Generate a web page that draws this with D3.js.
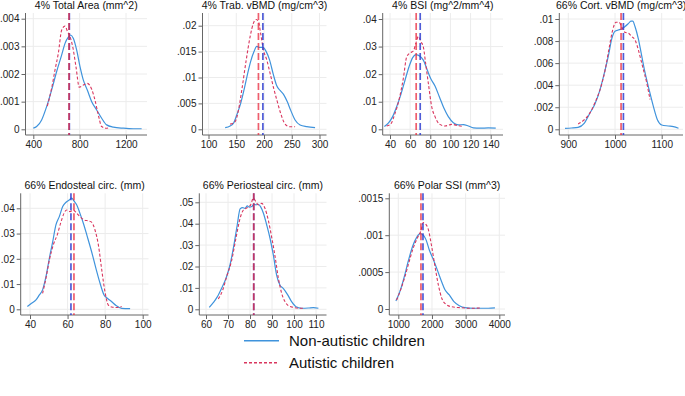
<!DOCTYPE html>
<html>
<head>
<meta charset="utf-8">
<script src="https://cdn.jsdelivr.net/npm/d3@7"></script>
<style>
  body { margin: 0; background: #fff; }
  svg { font-family: "Liberation Sans", Arial, sans-serif; }
</style>
</head>
<body>
<script>
// panel titles
const titles = [
  '4% Total Area (mm^2)', '4% Trab. vBMD (mg/cm^3)', '4% BSI (mg^2/mm^4)',
  '66% Cort. vBMD (mg/cm^3)', '66% Endosteal circ. (mm)',
  '66% Periosteal circ. (mm)', '66% Polar SSI (mm^3)'
];

// tick labels per panel
const xTicks = [
  [400, 800, 1200], [100, 150, 200, 250, 300], [40, 60, 80, 100, 120, 140],
  [900, 1000, 1100], [40, 60, 80, 100], [60, 70, 80, 90, 100, 110],
  [1000, 2000, 3000, 4000]
];
const yTicks = [
  [0, .001, .002, .003, .004], [0, .005, .01, .015, .02], [0, .01, .02, .03, .04],
  [0, .002, .004, .006, .008, .01], [0, .01, .02, .03, .04],
  [0, .01, .02, .03, .04, .05], [0, .0005, .001, .0015]
];

// group means (dashed vertical lines)
const nonMeans = [711, 198, 70, 1018, 61.8, 81.7, 1733];
const autMeans = [708, 190, 66, 1013, 63.4, 81.7, 1673];

// kernel density curves, [value, density]
const totalAreaNon = [[400, .00004], [429, .0001], [472, .00034], [515, .00082], [558, .00142], [601, .00208], [645, .00269], [673, .0031], [702, .00333], [722, .00341], [745, .00329], [774, .00287], [803, .00227], [832, .00178], [866, .00142], [904, .001], [947, .0007], [990, .0004], [1033, .00016], [1091, .00008], [1177, .00004], [1263, .00002], [1335, .00002]];
const totalAreaAut = [[521, .00084], [558, .00148], [587, .00214], [616, .00275], [645, .00359], [673, .00373], [696, .00353], [717, .00335], [740, .00299], [768, .00227], [797, .00152], [832, .0016], [866, .00166], [904, .00145], [932, .00106], [961, .00052], [990, .0001], [1027, .00004], [1062, .00006]];

const trabNon = [[130, .00032], [139, .00064], [145, .00116], [151, .0028], [158, .005], [164, .0076], [170, .0105], [176, .0131], [182, .015], [187, .016], [192, .0158], [198, .0158], [204, .015], [210, .0134], [217, .0105], [223, .0084], [229, .0075], [236, .0066], [242, .0053], [248, .0037], [256, .0018], [265, .00084], [277, .0005], [292, .00032]];
const trabAut = [[139, .001], [148, .0015], [154, .0037], [160, .0076], [168, .0134], [175, .0179], [181, .0205], [186, .0212], [190, .0208], [194, .0185], [199, .0153], [205, .0134], [211, .0108], [217, .0081], [223, .0057], [230, .0031], [238, .001], [246, .0005], [256, .0005]];

const bsiNon = [[34.4, .001], [38.3, .0022], [42.6, .0046], [46.6, .0082], [50.6, .0124], [54.9, .0178], [58.9, .0227], [62.5, .026], [65.8, .0271], [69.8, .0265], [73.1, .0251], [77.1, .0214], [80.4, .0184], [84.7, .0157], [89, .0118], [93.6, .0076], [97.9, .0046], [102.9, .0024], [107.9, .0016], [112.8, .0017], [117.8, .0012], [122.8, .0005], [129.4, .0004], [137.6, .0005], [145, .0004]];
const bsiAut = [[36.7, .0012], [40.7, .0019], [45, .0058], [49.3, .0112], [53.2, .0184], [56.6, .0263], [59.9, .0277], [63.2, .0284], [65.8, .0313], [68.1, .0337], [70.8, .0317], [73.1, .0299], [75.4, .0239], [78.1, .0166], [81.4, .0082], [84.7, .0046], [89, .0019], [94.6, .0012], [101.2, .0018], [107.9, .0013], [112.8, .001]];

const cortNon = [[893, .00009], [907, .00012], [921, .00018], [934, .00054], [946, .00145], [957, .0023], [968, .0036], [976, .0049], [986, .0067], [993, .0082], [1000, .0089], [1007, .009], [1014, .0091], [1021, .0093], [1029, .0096], [1034, .0098], [1038, .0098], [1043, .0093], [1050, .0082], [1057, .0067], [1064, .0052], [1073, .0036], [1082, .0021], [1091, .00084], [1100, .00039], [1114, .0003], [1125, .00024], [1136, .00009]];
const cortAut = [[921, .00048], [932, .00078], [945, .0014], [957, .0024], [968, .0036], [979, .0054], [988, .0075], [995, .009], [1002, .0097], [1009, .0097], [1014, .0093], [1021, .0088], [1029, .0087], [1036, .0084], [1043, .0081], [1050, .0072], [1059, .0057], [1068, .0042], [1075, .0027]];

const endoNon = [[38.6, .0011], [40.9, .0024], [43.2, .0037], [45, .0057], [46.7, .0077], [48.5, .0129], [50.3, .0202], [52.1, .0268], [53.8, .0334], [55.6, .0367], [57.4, .0407], [59.2, .0424], [60.9, .0433], [62.2, .044], [63.4, .0429], [64.9, .0413], [66.6, .038], [68.4, .0341], [70.5, .0288], [72.8, .0228], [75.1, .0162], [77.3, .0103], [79.4, .0057], [81.2, .0044], [83.5, .003], [85.8, .0015], [88.8, .0004], [93.3, .0003]];
const endoAut = [[46.7, .0063], [48.5, .0123], [50.3, .0195], [52.4, .0255], [54.6, .0297], [56.3, .0341], [58.1, .038], [59.5, .0393], [61.3, .0387], [63.1, .0393], [64.9, .038], [66.6, .0367], [68.8, .0354], [71.1, .035], [72.8, .0345], [74.6, .0314], [76.4, .0255], [78.2, .0156], [79.9, .007], [81.7, .0017], [84, .0008], [86.1, .0007], [88.8, .0011]];

const perioNon = [[61.5, .0009], [63.3, .0031], [65.2, .0059], [67.1, .0098], [69.1, .0145], [70.9, .0207], [72.7, .0301], [74.2, .0394], [75.5, .0469], [76.7, .0475], [77.7, .0472], [78.8, .0483], [79.7, .0477], [80.8, .048], [81.8, .0491], [82.7, .0488], [83.8, .0491], [84.8, .048], [86.1, .0449], [87.6, .0394], [89.1, .0332], [90.6, .0254], [92.1, .016], [93.6, .0114], [95.1, .0098], [97, .007], [98.9, .0036], [100.9, .0012], [103.5, .0005], [106.5, .0006], [108.8, .0008], [111.1, .0005]];
const perioAut = [[65.6, .0048], [67.6, .009], [69.4, .0153], [71.7, .023], [73.6, .0332], [75.5, .0425], [77, .0464], [78.8, .0475], [80.3, .0488], [81.5, .0519], [82.7, .0503], [83.8, .0488], [85.3, .0495], [86.8, .0472], [88.3, .0417], [89.8, .034], [91.4, .0246], [92.9, .0145], [94.4, .0075], [95.9, .0036], [97.4, .0017], [99.7, .0009], [102, .0005], [104.2, .0005]];

const ssiNon = [[931, .00011], [1050, .00024], [1168, .00042], [1297, .00065], [1426, .00085], [1545, .00097], [1644, .00102], [1743, .001], [1822, .00094], [1921, .0008], [2040, .00067], [2158, .00053], [2287, .00037], [2386, .00026], [2515, .00019], [2653, .0001], [2812, .000045], [2980, .000018], [3228, .00001], [3475, .00001], [3673, .00001], [3871, .000014]];
const ssiAut = [[950, .00012], [1069, .00026], [1198, .00044], [1327, .00065], [1446, .00083], [1564, .00096], [1673, .00106], [1743, .00117], [1812, .00115], [1891, .00108], [1990, .00085], [2089, .00058], [2188, .00033], [2287, .00015], [2416, .000064], [2584, .00003], [2832, .000018], [3129, .00001], [3426, .000014]];

const nonCurves = [totalAreaNon, trabNon, bsiNon, cortNon, endoNon, perioNon, ssiNon];
const autCurves = [totalAreaAut, trabAut, bsiAut, cortAut, endoAut, perioAut, ssiAut];

// layout: pixel position of first/last tick, and plot box [x0, x1, y0, y1]
const layout = [
  { xp: [33.3, 126], yp: [129.3, 18.7], box: [25.5, 147, 13, 135] },
  { xp: [208.5, 319.5], yp: [129.3, 25.7], box: [202.5, 326.5, 13, 135] },
  { xp: [390, 490.7], yp: [129.3, 19], box: [382.7, 503, 13, 135] },
  { xp: [568.3, 661.7], yp: [129.3, 19], box: [559.3, 683, 13, 135] },
  { xp: [30, 142.7], yp: [309.3, 208.3], box: [20.7, 148.5, 193.3, 315] },
  { xp: [206, 316], yp: [309.3, 202.3], box: [199.3, 326.5, 193.3, 315] },
  { xp: [398.3, 499.3], yp: [309, 198.3], box: [389.3, 505, 193.3, 315] }
];

const nonColor = '#3f93dc';
const autColor = '#d9365e';
const nonMeanColor = '#3040d0';
const autMeanColor = '#e8283c';

const svg = d3.select('body').append('svg')
  .attr('width', 685)
  .attr('height', 396);

const fmtY = d => d === 0 ? '0' : String(d).replace(/^0/, '');

titles.forEach((title, i) => {
  const L = layout[i];
  const [x0, x1, y0, y1] = L.box;
  const xt = xTicks[i];
  const yt = yTicks[i];
  const x = d3.scaleLinear().domain([xt[0], xt[xt.length - 1]]).range(L.xp);
  const y = d3.scaleLinear().domain([yt[0], yt[yt.length - 1]]).range(L.yp);
  const g = svg.append('g');

  // grid
  g.selectAll('.hg').data(yt).join('line')
    .attr('x1', x0).attr('x2', x1)
    .attr('y1', d => y(d)).attr('y2', d => y(d))
    .attr('stroke', '#ececec');
  g.selectAll('.vg').data(xt).join('line')
    .attr('x1', d => x(d)).attr('x2', d => x(d))
    .attr('y1', y0).attr('y2', y1)
    .attr('stroke', '#ececec');

  // axes
  const yAxis = g.append('g').attr('transform', 'translate(' + x0 + ',0)')
    .call(d3.axisLeft(y).tickValues(yt).tickFormat(fmtY).tickSize(4).tickPadding(2));
  const xAxis = g.append('g').attr('transform', 'translate(0,' + y1 + ')')
    .call(d3.axisBottom(x).tickValues(xt).tickFormat(d3.format('d')).tickSize(4).tickPadding(2));
  [yAxis, xAxis].forEach(a => {
    a.select('.domain').remove();
    a.selectAll('line').attr('stroke', '#666');
    a.selectAll('text').attr('font-size', 10).attr('fill', '#222')
      .attr('font-family', '"Liberation Sans", Arial, sans-serif');
  });
  g.append('line').attr('x1', x0).attr('x2', x0).attr('y1', y0).attr('y2', y1)
    .attr('stroke', '#666');
  g.append('line').attr('x1', x0).attr('x2', x1).attr('y1', y1).attr('y2', y1)
    .attr('stroke', '#666');

  // density curves
  const line = d3.line()
    .x(d => x(d[0]))
    .y(d => y(d[1]))
    .curve(d3.curveMonotoneX);
  g.append('path').datum(nonCurves[i])
    .attr('d', line).attr('fill', 'none')
    .attr('stroke', nonColor).attr('stroke-width', 1.2);
  g.append('path').datum(autCurves[i])
    .attr('d', line).attr('fill', 'none')
    .attr('stroke', autColor).attr('stroke-width', 1.1)
    .attr('stroke-dasharray', '3,2');

  // mean lines
  [[nonMeans[i], nonMeanColor, 0.85], [autMeans[i], autMeanColor, 0.75]].forEach(([m, c, op]) => {
    g.append('line')
      .attr('x1', x(m)).attr('x2', x(m))
      .attr('y1', y0).attr('y2', y1)
      .attr('stroke', c).attr('stroke-width', 1.7)
      .attr('stroke-opacity', op)
      .attr('stroke-dasharray', '7,3');
  });

  // title
  g.append('text')
    .attr('x', (x0 + x1) / 2).attr('y', y0 - 4.5)
    .attr('text-anchor', 'middle')
    .attr('font-size', 10.5).attr('fill', '#111')
    .text(title);
});

// legend
const legend = svg.append('g');
const legendItems = [
  { label: 'Non-autistic children', color: nonColor, dash: null },
  { label: 'Autistic children', color: autColor, dash: '3,2' }
];
legendItems.forEach((item, i) => {
  const ly = 340.7 + i * 22;
  legend.append('line')
    .attr('x1', 244).attr('x2', 279).attr('y1', ly).attr('y2', ly)
    .attr('stroke', item.color).attr('stroke-width', 1.4)
    .attr('stroke-dasharray', item.dash);
  legend.append('text')
    .attr('x', 289).attr('y', ly + 5.3)
    .attr('font-size', 15).attr('fill', '#111')
    .text(item.label);
});
</script>
</body>
</html>
